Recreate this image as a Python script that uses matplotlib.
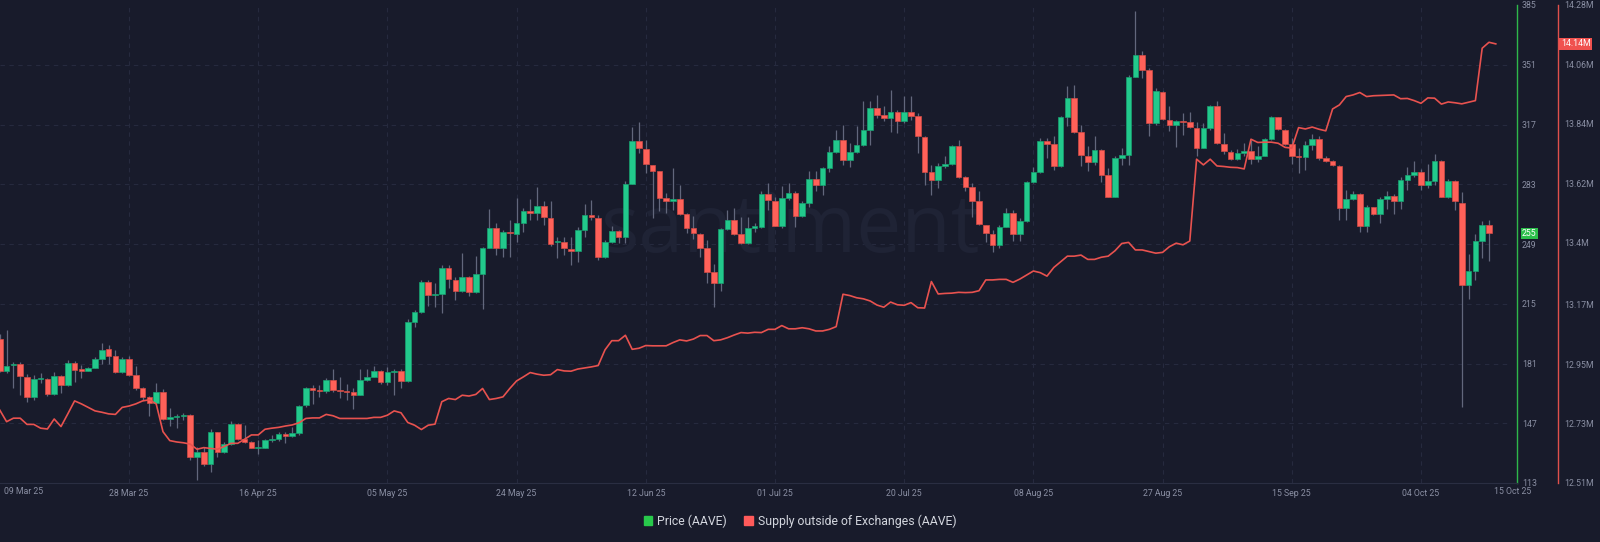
import numpy as np
import pandas as pd
import matplotlib
matplotlib.use("Agg")
import matplotlib.pyplot as plt
import matplotlib.dates as mdates
from matplotlib.patches import Patch

plt.rcParams['font.family'] = ['Roboto', 'DejaVu Sans']

# ---- data ----
start = '2025-03-09'

opens = [194.8, 176.9, 180.0, 180.7, 173.5, 161.7, 172.0, 172.0, 163.6, 173.9,
         168.7, 181.5, 177.7, 176.9, 178.6, 183.4, 189.0, 185.5, 176.4, 183.4,
         174.5, 166.9, 162.0, 158.7, 165.0, 149.4, 150.3, 151.1, 151.5, 127.9,
         130.8, 123.7, 141.8, 130.8, 135.1, 146.5, 138.0, 136.1, 132.9, 132.9,
         137.4, 138.2, 140.8, 139.9, 141.6, 157.3, 166.8, 166.2, 165.4, 171.5,
         165.8, 165.2, 164.5, 163.3, 171.5, 173.4, 176.6, 170.2, 175.9, 176.6,
         170.9, 204.4, 210.1, 227.6, 220.0, 220.5, 235.2, 228.5, 222.4, 230.0,
         221.9, 231.7, 246.6, 258.0, 246.6, 256.0, 254.7, 260.8, 267.5, 266.9,
         270.9, 263.6, 250.0, 250.4, 246.2, 245.3, 257.0, 265.6, 263.6, 241.4,
         250.0, 256.6, 253.2, 283.2, 307.4, 303.2, 294.0, 290.3, 275.4, 273.7,
         274.7, 266.1, 258.0, 254.7, 246.6, 233.3, 226.6, 257.4, 262.7, 254.5,
         249.4, 258.3, 258.9, 277.5, 273.7, 259.3, 275.0, 278.3, 265.0, 272.6,
         286.1, 282.7, 292.1, 301.3, 307.9, 296.9, 301.1, 305.5, 314.0, 326.4,
         322.6, 320.7, 324.0, 318.8, 324.0, 321.6, 309.8, 289.7, 285.5, 293.5,
         294.3, 304.5, 287.4, 281.3, 273.2, 260.0, 254.7, 248.4, 258.9, 266.9,
         254.5, 262.3, 284.0, 289.7, 307.4, 305.8, 293.5, 321.2, 331.9, 312.5,
         299.2, 295.4, 302.6, 288.0, 276.0, 298.2, 299.4, 344.0, 356.8, 347.8,
         317.8, 335.4, 319.7, 316.9, 318.8, 318.4, 314.9, 303.5, 314.9, 327.7,
         306.0, 301.3, 297.5, 300.7, 302.2, 297.3, 299.2, 308.9, 321.0, 314.0,
         305.8, 298.8, 298.5, 305.5, 308.7, 297.9, 296.3, 293.5, 269.7, 274.5,
         277.5, 259.3, 270.3, 265.9, 274.5, 276.4, 273.7, 285.5, 288.0, 289.7,
         282.7, 284.9, 296.5, 276.0, 284.6, 272.6, 225.7, 233.5, 250.8, 260.0]

highs = [198.0, 200.1, 182.0, 182.0, 175.0, 174.5, 175.8, 173.0, 176.4, 174.5,
         183.0, 182.5, 180.0, 179.2, 184.9, 192.9, 191.6, 188.7, 184.9, 185.5,
         179.6, 167.5, 162.5, 169.7, 166.3, 155.4, 152.2, 153.0, 152.0, 133.6,
         133.6, 143.5, 142.3, 136.4, 148.4, 147.0, 145.8, 137.0, 137.4, 138.3,
         140.2, 142.1, 142.1, 145.0, 157.3, 167.8, 168.6, 168.6, 172.5, 177.6,
         173.4, 169.6, 166.8, 177.6, 177.6, 179.5, 177.2, 179.1, 177.6, 177.6,
         206.1, 211.4, 228.5, 228.5, 226.6, 237.1, 237.1, 230.0, 243.7, 230.8,
         242.2, 247.5, 268.8, 260.8, 257.0, 262.7, 275.0, 269.3, 274.5, 281.7,
         273.2, 273.2, 253.2, 253.2, 253.2, 258.9, 271.8, 274.1, 265.6, 251.3,
         259.3, 257.0, 284.6, 315.5, 318.7, 307.9, 294.0, 290.3, 277.9, 292.1,
         282.7, 266.5, 265.0, 255.1, 251.3, 237.4, 257.9, 268.4, 269.3, 264.6,
         264.6, 260.8, 278.9, 283.6, 275.6, 282.1, 283.6, 279.4, 273.2, 290.3,
         290.3, 293.1, 304.5, 314.0, 316.9, 306.4, 316.3, 330.2, 330.2, 333.9,
         327.3, 336.4, 325.4, 333.4, 333.4, 323.5, 310.6, 294.1, 295.0, 298.8,
         305.5, 308.3, 287.7, 283.6, 278.9, 260.0, 257.0, 259.9, 269.3, 268.4,
         263.6, 284.6, 293.1, 309.3, 309.3, 310.2, 321.6, 339.1, 339.7, 316.9,
         304.5, 310.2, 303.0, 292.1, 298.8, 303.5, 345.4, 381.5, 358.6, 349.1,
         337.7, 335.8, 327.3, 319.3, 323.5, 323.9, 318.2, 317.8, 328.3, 330.2,
         312.1, 302.6, 303.0, 306.4, 308.3, 304.9, 309.3, 321.6, 321.2, 314.4,
         309.3, 303.5, 307.4, 311.7, 310.6, 298.8, 296.9, 294.1, 279.8, 278.9,
         277.9, 271.2, 270.3, 276.0, 278.9, 277.5, 287.4, 293.1, 296.5, 291.6,
         294.6, 300.1, 296.9, 285.9, 285.5, 278.7, 243.4, 254.7, 262.0, 262.9]

lows = [176.0, 175.4, 166.9, 163.0, 159.0, 160.0, 170.0, 162.5, 163.0, 164.4,
        168.3, 170.6, 172.5, 176.9, 178.2, 181.0, 181.0, 175.4, 175.4, 174.0,
        165.9, 160.3, 151.0, 158.3, 148.8, 145.4, 144.1, 148.8, 126.0, 114.7,
        122.8, 119.0, 127.9, 130.2, 134.6, 137.4, 135.9, 132.7, 129.4, 132.7,
        136.5, 137.0, 135.5, 139.0, 140.5, 156.3, 158.2, 162.0, 164.3, 164.8,
        161.1, 160.1, 155.3, 163.0, 171.1, 173.4, 169.6, 168.7, 163.0, 166.8,
        170.4, 202.0, 209.5, 213.7, 213.0, 209.9, 223.7, 217.1, 221.9, 219.4,
        221.3, 211.8, 246.6, 242.7, 241.8, 241.8, 250.4, 256.1, 262.7, 262.7,
        259.9, 248.0, 240.9, 242.8, 237.1, 239.0, 253.2, 262.7, 239.9, 240.9,
        249.8, 249.8, 249.8, 283.2, 300.7, 289.3, 263.6, 268.0, 266.5, 268.4,
        265.6, 255.1, 251.7, 241.8, 227.0, 213.3, 222.4, 257.0, 254.1, 249.0,
        249.0, 256.1, 258.0, 268.4, 259.0, 258.0, 274.1, 258.5, 264.6, 270.3,
        278.9, 277.0, 289.7, 300.7, 294.0, 293.0, 300.7, 304.5, 305.5, 320.7,
        318.8, 312.5, 312.1, 317.8, 319.7, 300.7, 282.7, 277.0, 280.7, 292.1,
        293.9, 286.4, 278.9, 264.6, 259.9, 250.0, 244.7, 246.6, 258.5, 250.9,
        250.9, 261.7, 283.6, 289.3, 297.9, 291.2, 293.1, 316.3, 312.1, 293.5,
        290.3, 294.1, 284.0, 275.6, 275.6, 293.7, 293.7, 344.0, 343.4, 310.2,
        316.9, 319.7, 313.1, 304.1, 311.2, 315.0, 298.8, 303.5, 314.0, 306.0,
        300.3, 296.9, 296.9, 298.8, 294.6, 295.9, 298.8, 308.3, 314.0, 305.5,
        294.6, 289.3, 291.2, 302.6, 296.9, 295.9, 293.5, 262.7, 262.7, 274.1,
        256.1, 256.1, 265.6, 260.8, 268.8, 266.1, 268.8, 279.8, 287.0, 279.8,
        280.7, 282.7, 275.6, 275.0, 268.4, 156.0, 217.8, 228.5, 241.0, 239.4]

closes = [176.9, 179.8, 180.7, 173.9, 161.7, 172.0, 172.3, 163.6, 173.9, 168.7,
          181.5, 177.3, 176.9, 178.6, 183.4, 188.7, 185.5, 176.4, 183.6, 174.5,
          166.9, 162.1, 158.7, 165.0, 149.4, 150.3, 151.1, 151.5, 127.9, 130.8,
          123.7, 141.8, 130.8, 135.1, 146.5, 138.0, 136.1, 132.9, 133.1, 137.4,
          138.2, 140.8, 139.9, 141.6, 156.8, 166.8, 166.2, 165.4, 171.5, 165.8,
          165.2, 164.8, 163.3, 171.5, 173.4, 176.6, 170.2, 175.9, 176.6, 170.9,
          204.4, 210.1, 227.6, 220.0, 220.7, 235.2, 228.9, 222.4, 230.0, 221.9,
          231.7, 246.6, 258.0, 246.6, 255.7, 255.0, 260.8, 267.5, 266.5, 270.9,
          264.2, 249.0, 250.5, 246.6, 245.3, 257.0, 265.6, 264.2, 241.4, 250.0,
          256.6, 253.2, 283.2, 307.4, 303.5, 294.4, 290.3, 275.4, 273.7, 274.5,
          266.1, 258.0, 255.1, 246.6, 233.3, 226.6, 257.4, 262.7, 254.7, 249.4,
          258.3, 259.3, 277.5, 274.1, 259.3, 275.0, 278.3, 265.0, 272.6, 286.1,
          282.7, 292.1, 301.3, 307.9, 296.9, 301.1, 305.5, 314.0, 326.4, 322.6,
          320.7, 324.0, 318.8, 324.0, 322.0, 310.2, 289.9, 285.5, 293.5, 294.3,
          304.5, 287.4, 281.3, 273.2, 260.4, 255.1, 248.4, 258.9, 266.9, 254.5,
          262.3, 284.0, 289.7, 307.4, 306.0, 293.5, 321.2, 331.9, 312.7, 299.4,
          295.4, 302.6, 288.4, 276.0, 298.2, 299.4, 344.0, 356.8, 348.2, 317.8,
          335.8, 320.1, 316.9, 318.8, 318.4, 315.3, 303.5, 314.9, 327.7, 306.4,
          301.7, 297.5, 300.7, 302.2, 297.3, 299.2, 308.9, 321.0, 314.4, 306.0,
          298.8, 298.4, 305.5, 308.7, 297.9, 296.5, 293.9, 269.7, 274.5, 277.5,
          259.3, 270.3, 265.9, 274.5, 276.4, 273.7, 285.5, 288.0, 289.7, 282.7,
          284.9, 296.5, 276.0, 284.6, 273.2, 225.7, 233.5, 250.8, 260.0, 255.0]

supply = [12.780, 12.737, 12.750, 12.750, 12.727, 12.727, 12.713, 12.710, 12.747, 12.719,
          12.766, 12.814, 12.803, 12.790, 12.777, 12.772, 12.766, 12.764, 12.790, 12.795,
          12.803, 12.814, 12.818, 12.803, 12.700, 12.667, 12.662, 12.659, 12.654, 12.635,
          12.641, 12.638, 12.635, 12.645, 12.657, 12.657, 12.672, 12.688, 12.688, 12.709,
          12.713, 12.716, 12.721, 12.725, 12.733, 12.749, 12.751, 12.751, 12.764, 12.759,
          12.749, 12.749, 12.749, 12.749, 12.749, 12.753, 12.753, 12.761, 12.777, 12.770,
          12.734, 12.724, 12.708, 12.724, 12.728, 12.811, 12.823, 12.819, 12.835, 12.832,
          12.838, 12.860, 12.819, 12.823, 12.829, 12.860, 12.888, 12.903, 12.919, 12.913,
          12.909, 12.911, 12.930, 12.925, 12.924, 12.932, 12.936, 12.940, 12.945, 13.003,
          13.037, 13.037, 13.057, 13.005, 13.009, 13.019, 13.018, 13.018, 13.018, 13.030,
          13.040, 13.036, 13.043, 13.056, 13.056, 13.037, 13.040, 13.048, 13.058, 13.067,
          13.065, 13.068, 13.067, 13.079, 13.079, 13.093, 13.081, 13.081, 13.085, 13.081,
          13.073, 13.073, 13.079, 13.089, 13.209, 13.204, 13.196, 13.192, 13.184, 13.169,
          13.161, 13.180, 13.170, 13.168, 13.178, 13.159, 13.158, 13.256, 13.210, 13.212,
          13.213, 13.216, 13.215, 13.216, 13.222, 13.262, 13.262, 13.264, 13.264, 13.253,
          13.265, 13.280, 13.295, 13.289, 13.276, 13.308, 13.329, 13.350, 13.350, 13.354,
          13.338, 13.338, 13.346, 13.350, 13.370, 13.397, 13.401, 13.373, 13.373, 13.367,
          13.361, 13.364, 13.385, 13.398, 13.392, 13.406, 13.709, 13.688, 13.709, 13.684,
          13.682, 13.679, 13.678, 13.673, 13.783, 13.771, 13.772, 13.772, 13.768, 13.753,
          13.750, 13.826, 13.821, 13.828, 13.820, 13.814, 13.895, 13.910, 13.941, 13.947,
          13.956, 13.941, 13.944, 13.945, 13.946, 13.947, 13.933, 13.934, 13.926, 13.916,
          13.936, 13.935, 13.913, 13.921, 13.918, 13.914, 13.920, 13.926, 14.120, 14.142,
          14.136]

price_ticks = [113, 147, 181, 215, 249, 283, 317, 351, 385]
supply_ticks = [12.51, 12.73, 12.95, 13.17, 13.4, 13.62, 13.84, 14.06, 14.28]
supply_labels = ['12.51M', '12.73M', '12.95M', '13.17M', '13.4M',
                 '13.62M', '13.84M', '14.06M', '14.28M']
date_ticks = ['2025-03-28', '2025-04-16', '2025-05-05', '2025-05-24', '2025-06-12',
              '2025-07-01', '2025-07-20', '2025-08-08', '2025-08-27', '2025-09-15',
              '2025-10-04']

# ---- style ----
BG = '#181b2b'
GRID = '#262a3e'
TXT = '#8a8fa3'
UP = '#22c98c'
DOWN = '#ff6159'
WICK = '#62677c'

d = mdates.date2num(pd.date_range(start, periods=len(closes)))
ds = mdates.date2num(pd.date_range(start, periods=len(supply)))
o = np.array(opens); c = np.array(closes)
h = np.array(highs); l = np.array(lows)
up = c >= o

W, H = 1600, 542
fig = plt.figure(figsize=(W / 100, H / 100), dpi=100, facecolor=BG)
ax = fig.add_axes([0, 1 - 483 / H, 1517 / W, 478 / H])
ax.set_facecolor(BG)
ax2 = ax.twinx()
ax2.patch.set_visible(False)

# grid
for t in mdates.date2num(pd.to_datetime(date_ticks)):
    ax.axvline(t, color=GRID, lw=0.8, ls=(0, (4, 4)), zorder=0)
for p in price_ticks[1:-1]:
    ax.axhline(p, xmax=1510 / 1517, color=GRID, lw=0.8, ls=(0, (4, 4)), zorder=0)

ax.text(0.521, 0.527, 'santiment', transform=ax.transAxes, fontsize=58,
        color='#1f2335', ha='center', va='center', family=['Open Sans', 'DejaVu Sans'],
        zorder=0)

# candles
ax.vlines(d, l, h, color=WICK, lw=0.9, zorder=1)
body = np.maximum(np.abs(c - o), 0.8)
ax.bar(d, body, bottom=np.minimum(o, c), width=0.82,
       color=np.where(up, UP, DOWN), edgecolor=np.where(up, '#18a070', '#d24b45'),
       linewidth=0.5, zorder=2)

ax.set_xlim(d[0] + 0.03, d[0] + 223.12)
ax.set_ylim(113, 385)

ax.set_xticks(mdates.date2num(pd.to_datetime(date_ticks)))
ax.set_xticklabels(pd.to_datetime(date_ticks).strftime('%d %b %y'))
ax.tick_params(axis='x', length=0, pad=4, colors=TXT, labelsize=6.3)
ax.text(4 / 1517, -4 / 478, '09 Mar 25', transform=ax.transAxes, ha='left', va='top',
        fontsize=6.3, color=TXT)
ax.text(1513 / 1517, -4 / 478, '15 Oct 25', transform=ax.transAxes, ha='center', va='top',
        fontsize=6.3, color=TXT)

# price axis on the right (after twinx, which resets it)
ax.yaxis.tick_right()
ax.yaxis.set_label_position('right')
ax.set_yticks(price_ticks)
ax.set_yticklabels([str(p) for p in price_ticks])
ax.tick_params(axis='y', which='both', left=False, right=False, labelleft=False,
               labelright=True, length=0, pad=3.5, colors=TXT, labelsize=6.3)
for s in ['left', 'top']:
    ax.spines[s].set_visible(False)
ax.spines['right'].set_color('#2eb84a')
ax.spines['right'].set_linewidth(1.0)
ax.spines['bottom'].set_color('#2a2e42')

ax.text(1 + 5 / 1517, closes[-1], f'{closes[-1]:.0f}', transform=ax.get_yaxis_transform(),
        ha='left', va='center', fontsize=6.3, color='white',
        bbox=dict(boxstyle='square,pad=0.15', fc='#2bbd4a', ec='none'), zorder=5)

# supply line
ax2.plot(ds, supply, color='#e8524f', lw=1.2, zorder=3)
ax2.set_ylim(12.51, 14.28)
ax2.set_yticks(supply_ticks)
ax2.set_yticklabels(supply_labels)
ax2.tick_params(axis='y', length=0, pad=4.5, colors=TXT, labelsize=6.3)
for s in ['left', 'top', 'bottom']:
    ax2.spines[s].set_visible(False)
ax2.spines['right'].set_position(('axes', 1558 / 1517))
ax2.spines['right'].set_color('#e0504c')
ax2.spines['right'].set_linewidth(1.0)
ax2.text(1561 / 1517, supply[-1], f'{supply[-1]:.2f}M', transform=ax2.get_yaxis_transform(),
         ha='left', va='center', fontsize=6.3, color='white',
         bbox=dict(boxstyle='square,pad=0.2', fc='#f0524f', ec='none'), zorder=5)

# legend
handles = [Patch(color='#28c94b', label='Price (AAVE)'),
           Patch(color='#ff5a5a', label='Supply outside of Exchanges (AAVE)')]
fig.legend(handles=handles, loc='center', bbox_to_anchor=(800 / W, 1 - 521 / H), ncol=2,
           frameon=False, fontsize=8.8, labelcolor='#d3d6de', handlelength=0.7,
           handleheight=0.7, handletextpad=0.4, columnspacing=1.4)

fig.savefig('out.png', dpi=100, facecolor=BG)
